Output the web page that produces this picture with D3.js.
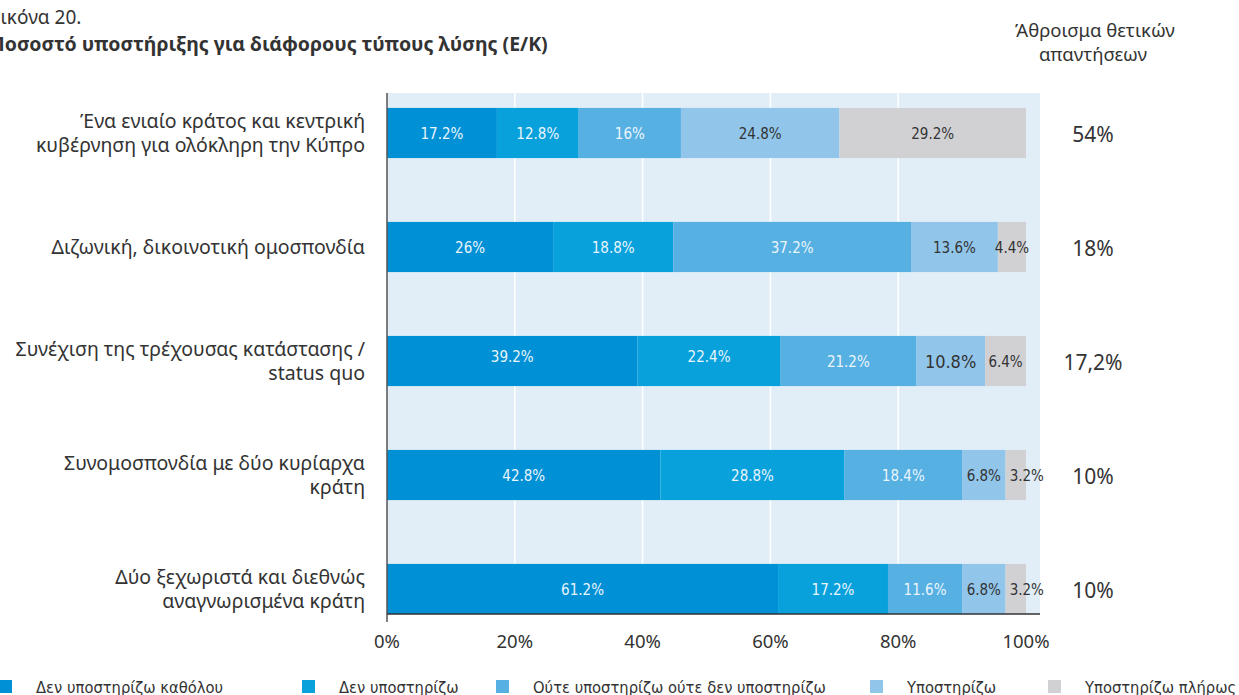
<!DOCTYPE html>
<html>
<head>
<meta charset="utf-8">
<script src="https://cdn.jsdelivr.net/npm/d3@7/dist/d3.min.js"></script>
<style>
    body { margin: 0; background: #fff; }
    svg { display: block; }
    .cat { font-family: "Noto Sans", "Open Sans", sans-serif; font-size: 19.5px; fill: #333; }
    .seg { font-family: "Liberation Sans Narrow", "DejaVu Sans Condensed", sans-serif; font-size: 15px; }
    .tick-lbl { font-family: "Noto Sans", sans-serif; font-size: 18.5px; fill: #333; }
    .leg { font-family: "Liberation Sans Narrow", "DejaVu Sans Condensed", sans-serif; font-size: 16.4px; fill: #333; }
</style>
</head>
<body>
<div class="chartRoot"></div>
<script>
(function () {
    'use strict';

    var categories = [
        ["Ένα ενιαίο κράτος και κεντρική", "κυβέρνηση για ολόκληρη την Κύπρο"],
        ["Διζωνική, δικοινοτική ομοσπονδία"],
        ["Συνέχιση της τρέχουσας κατάστασης /", "status quo"],
        ["Συνομοσπονδία με δύο κυρίαρχα", "κράτη"],
        ["Δύο ξεχωριστά και διεθνώς", "αναγνωρισμένα κράτη"]
    ];
    var seriesNames = ["Δεν υποστηρίζω καθόλου", "Δεν υποστηρίζω",
        "Ούτε υποστηρίζω ούτε δεν υποστηρίζω", "Υποστηρίζω", "Υποστηρίζω πλήρως"];
    var notAtAll = [17.2, 26, 39.2, 42.8, 61.2];
    var notSupport = [12.8, 18.8, 22.4, 28.8, 17.2];
    var neutral = [16, 37.2, 21.2, 18.4, 11.6];
    var support = [24.8, 13.6, 10.8, 6.8, 6.8];
    var fully = [29.2, 4.4, 6.4, 3.2, 3.2];
    var totals = ["54%", "18%", "17,2%", "10%", "10%"];
    var xTicks = [0, 20, 40, 60, 80, 100];

    var colors = ["#0090d5", "#08a1dc", "#56b0e2", "#91c5ea", "#d1d1d3"];
    var textColors = ["#eaf5fc", "#eaf5fc", "#eaf5fc", "#333", "#333"];

    var w = 1239, h = 695;
    var svg = d3.select("div.chartRoot").append("svg")
        .attr("width", w)
        .attr("height", h);

    var x = d3.scaleLinear().domain([0, 100]).range([387, 1026]);
    var y = d3.scaleBand().domain(d3.range(categories.length))
        .range([76, 646]).paddingInner(0.56).paddingOuter(0.28);

    var plotTop = 93, plotBottom = 614, plotRight = 1040;

    // background + white grid
    svg.append("rect")
        .attr("x", x(0)).attr("y", plotTop)
        .attr("width", plotRight - x(0)).attr("height", plotBottom - plotTop)
        .style("fill", "#e1eef8");
    svg.selectAll("line.grid")
        .data(xTicks.slice(1, 5))
        .enter().append("line")
        .attr("x1", function (d) { return x(d); })
        .attr("x2", function (d) { return x(d); })
        .attr("y1", plotTop).attr("y2", plotBottom)
        .style("stroke", "#fff")
        .style("stroke-width", "1.5px");

    var rows = categories.map(function (c, i) {
        return { i: i, values: [notAtAll[i], notSupport[i], neutral[i], support[i], fully[i]] };
    });
    var stack = d3.stack().keys(d3.range(5)).value(function (d, k) { return d.values[k]; });
    var layers = stack(rows);

    var layer = svg.selectAll("g.layer")
        .data(layers)
        .enter().append("g")
        .attr("class", "layer");

    layer.selectAll("rect")
        .data(function (d) { return d; })
        .enter().append("rect")
        .attr("x", function (d) { return x(d[0]); })
        .attr("y", function (d) { return y(d.data.i); })
        .attr("width", function (d) { return x(d[1]) - x(d[0]); })
        .attr("height", y.bandwidth())
        .style("fill", function (d, i, nodes) { return colors[d3.select(nodes[i].parentNode).datum().key]; });

    // small last segments: label spills past bar end, like the original
    layer.selectAll("text")
        .data(function (d) { return d.map(function (p) { return { p: p, key: d.key }; }); })
        .enter().append("text")
        .attr("class", "seg")
        .attr("x", function (d) { return (x(d.p[0]) + x(d.p[1])) / 2 + (d.key === 4 && d.p.data.i >= 3 ? 11 : 0); })
        .attr("y", function (d) { return y(d.p.data.i) + y.bandwidth() / 2 + (d.p.data.i === 2 && d.key < 2 ? -4 : 1); })
        .attr("dy", "0.35em")
        .attr("text-anchor", "middle")
        .style("font-size", function (d) { return (d.p.data.i === 2 && d.key === 3) ? "18px" : null; })
        .style("fill", function (d) { return textColors[d.key]; })
        .text(function (d) { return d.p.data.values[d.key] + "%"; });

    // axes lines
    svg.append("line")
        .attr("x1", x(0)).attr("x2", x(0))
        .attr("y1", plotTop).attr("y2", plotBottom + 8)
        .style("stroke", "#555").style("stroke-width", "1.5px");
    svg.append("line")
        .attr("x1", x(0)).attr("x2", plotRight)
        .attr("y1", plotBottom).attr("y2", plotBottom)
        .style("stroke", "#333").style("stroke-width", "1.5px");

    svg.selectAll("text.tick-lbl")
        .data(xTicks)
        .enter().append("text")
        .attr("class", "tick-lbl")
        .attr("x", function (d) { return x(d); })
        .attr("y", 648)
        .attr("text-anchor", "middle")
        .text(function (d) { return d + "%"; });

    // category labels
    var cat = svg.selectAll("text.cat")
        .data(categories)
        .enter().append("text")
        .attr("class", "cat")
        .attr("text-anchor", "end")
        .attr("x", 365)
        .attr("y", function (d, i) { return y(i) + y.bandwidth() / 2 - (d.length - 1) * 12; });
    cat.selectAll("tspan")
        .data(function (d) { return d; })
        .enter().append("tspan")
        .attr("x", 365)
        .attr("dy", function (d, i) { return i === 0 ? "0.35em" : "24px"; })
        .text(function (d) { return d; });

    // totals column
    svg.selectAll("text.total")
        .data(totals)
        .enter().append("text")
        .attr("class", "cat")
        .attr("x", 1093)
        .attr("y", function (d, i) { return y(i) + y.bandwidth() / 2 + 2; })
        .attr("dy", "0.35em")
        .attr("text-anchor", "middle")
        .style("font-size", "21px")
        .text(function (d) { return d; });

    svg.append("text").attr("class", "cat")
        .attr("x", 1095).attr("y", 37).attr("text-anchor", "middle")
        .style("font-size", "18.5px")
        .text("Άθροισμα θετικών");
    svg.append("text").attr("class", "cat")
        .attr("x", 1093).attr("y", 61).attr("text-anchor", "middle")
        .style("font-size", "18.5px")
        .text("απαντήσεων");

    // title
    svg.append("text").attr("class", "cat")
        .attr("x", -10).attr("y", 24)
        .style("font-size", "19px")
        .text("Εικόνα 20.");
    svg.append("text").attr("class", "cat")
        .attr("x", -10).attr("y", 51)
        .style("font-size", "19.5px").style("font-weight", "bold")
        .text("Ποσοστό υποστήριξης για διάφορους τύπους λύσης (Ε/Κ)");

    // legend
    var legX = [0, 303, 497, 871, 1049];
    var leg = svg.selectAll("g.leg")
        .data(seriesNames)
        .enter().append("g")
        .attr("transform", function (d, i) { return "translate(" + legX[i] + ",680)"; });
    leg.append("rect")
        .attr("x", -1).attr("y", 0)
        .attr("width", 13).attr("height", 13)
        .style("fill", function (d, i) { return colors[i]; });
    leg.append("text")
        .attr("class", "leg")
        .attr("x", 36).attr("y", 7)
        .attr("dy", "0.35em")
        .text(function (d) { return d; });
})();
</script>
</body>
</html>
